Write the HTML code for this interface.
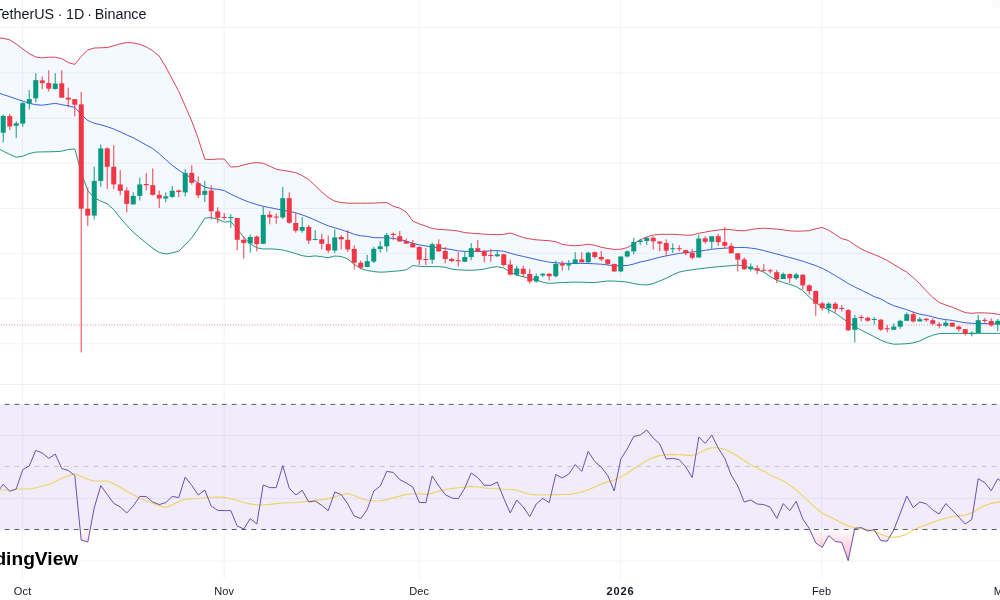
<!DOCTYPE html>
<html lang="en"><head><meta charset="utf-8"><title>Chart</title>
<style>html,body{margin:0;padding:0;background:#fff;overflow:hidden}body{width:1000px;height:600px;position:relative;font-family:"Liberation Sans",sans-serif}svg{position:absolute;left:0;top:0;display:block}text{font-family:"Liberation Sans",sans-serif}</style>
</head><body>
<svg width="1000" height="600" viewBox="0 0 1000 600">
<defs><linearGradient id="os" x1="0" y1="529.5" x2="0" y2="623" gradientUnits="userSpaceOnUse"><stop offset="0" stop-color="#f23660" stop-opacity="0.02"/><stop offset="1" stop-color="#f23660" stop-opacity="1"/></linearGradient></defs>
<rect width="1000" height="600" fill="#fff"/>
<g stroke="#f2f2f4" stroke-width="1" fill="none">
<line x1="0" y1="27.4" x2="1000" y2="27.4"/>
<line x1="0" y1="72.8" x2="1000" y2="72.8"/>
<line x1="0" y1="118.2" x2="1000" y2="118.2"/>
<line x1="0" y1="163.2" x2="1000" y2="163.2"/>
<line x1="0" y1="208.4" x2="1000" y2="208.4"/>
<line x1="0" y1="253.6" x2="1000" y2="253.6"/>
<line x1="0" y1="298.7" x2="1000" y2="298.7"/>
<line x1="0" y1="343.7" x2="1000" y2="343.7"/>
<line x1="0" y1="435.5" x2="1000" y2="435.5"/>
<line x1="0" y1="498.4" x2="1000" y2="498.4"/>
<line x1="0" y1="561.0" x2="1000" y2="561.0"/>
<line x1="22.6" y1="0" x2="22.6" y2="578.5"/>
<line x1="224.2" y1="0" x2="224.2" y2="578.5"/>
<line x1="419.2" y1="0" x2="419.2" y2="578.5"/>
<line x1="620.6" y1="0" x2="620.6" y2="578.5"/>
<line x1="821.6" y1="0" x2="821.6" y2="578.5"/>
</g>
<rect x="992.2" y="0" width="7.8" height="7.8" fill="#fbfbfb"/>
<line x1="0" y1="384.5" x2="1000" y2="384.5" stroke="#eef0f4" stroke-width="1"/>
<polygon points="0.0,38.0 3.2,38.3 9.8,39.9 16.2,44.0 22.8,49.0 29.2,53.6 35.8,57.0 42.2,57.9 48.8,57.2 55.2,57.2 61.8,58.6 68.2,62.5 74.8,64.4 81.2,56.4 87.8,50.0 94.2,48.0 100.8,47.8 107.2,47.5 113.8,45.8 120.2,43.9 126.8,42.5 133.2,42.9 139.8,44.3 146.2,46.9 152.8,50.7 159.2,56.2 165.8,67.0 172.2,79.0 178.8,91.5 185.2,105.9 191.8,121.3 198.2,138.5 204.8,159.2 211.2,159.6 217.8,159.0 224.2,159.0 230.8,167.0 237.2,166.7 243.8,164.9 250.2,163.4 256.8,162.5 263.2,163.3 269.8,166.3 276.2,169.2 282.8,170.4 289.2,171.3 295.8,172.7 302.2,175.6 308.8,179.6 315.2,185.6 321.8,191.9 328.2,197.4 334.8,201.2 341.2,202.5 347.8,203.2 354.2,203.2 360.8,203.2 367.2,203.2 373.8,203.1 380.2,202.7 386.8,202.6 393.2,206.2 399.8,208.2 406.2,212.0 412.8,221.0 419.2,223.9 425.8,226.1 432.2,228.4 438.8,229.4 445.2,229.8 451.8,230.2 458.2,231.1 464.8,232.6 471.2,233.2 477.8,233.7 484.2,234.1 490.8,234.5 497.2,234.6 503.8,234.4 510.2,233.0 516.8,235.3 523.2,237.5 529.8,238.9 536.2,239.8 542.8,240.3 549.2,240.7 555.8,241.7 562.2,244.3 568.8,245.3 575.2,245.8 581.8,245.2 588.2,244.2 594.8,245.3 601.2,247.3 607.8,248.5 614.2,249.4 620.8,249.2 627.2,247.7 633.8,243.8 640.2,239.8 646.8,236.9 653.2,235.0 659.8,234.3 666.2,234.3 672.8,234.3 679.2,234.6 685.8,235.2 692.2,235.1 698.8,233.3 705.2,232.1 711.8,230.9 718.2,230.0 724.8,229.3 731.2,229.7 737.8,230.6 744.2,230.8 750.8,229.6 757.2,228.6 763.8,228.2 770.2,228.6 776.8,229.1 783.2,229.8 789.8,230.8 796.2,231.2 802.8,231.0 809.2,230.7 815.8,228.8 822.2,227.5 828.8,230.3 835.2,234.5 841.8,238.7 848.2,240.4 854.8,245.0 861.2,248.9 867.8,252.1 874.2,254.5 880.8,257.3 887.2,260.5 893.8,264.5 900.2,268.3 906.8,272.2 913.2,277.5 919.8,283.8 926.2,290.8 932.8,297.3 939.2,302.5 945.8,305.0 952.2,307.1 958.8,310.0 965.2,312.6 971.8,313.3 978.2,312.8 984.8,312.9 991.2,313.3 997.8,314.2 1000.0,314.6 1000.0,333.4 997.8,333.4 991.2,333.4 984.8,333.4 978.2,333.4 971.8,333.4 965.2,333.4 958.8,333.4 952.2,333.4 945.8,333.5 939.2,333.6 932.8,335.2 926.2,337.7 919.8,341.0 913.2,342.9 906.8,343.7 900.2,344.1 893.8,344.2 887.2,342.7 880.8,340.2 874.2,336.7 867.8,333.4 861.2,330.2 854.8,326.5 848.2,322.4 841.8,317.8 835.2,313.1 828.8,309.8 822.2,306.6 815.8,302.9 809.2,296.9 802.8,290.8 796.2,286.6 789.8,284.4 783.2,282.5 776.8,280.2 770.2,276.6 763.8,272.2 757.2,269.8 750.8,268.1 744.2,266.0 737.8,265.1 731.2,265.7 724.8,266.2 718.2,266.7 711.8,267.3 705.2,268.1 698.8,268.9 692.2,269.8 685.8,270.7 679.2,272.1 672.8,274.8 666.2,278.3 659.8,280.9 653.2,283.6 646.8,285.0 640.2,284.6 633.8,283.5 627.2,282.1 620.8,281.5 614.2,281.1 607.8,281.0 601.2,281.8 594.8,282.5 588.2,282.5 581.8,282.2 575.2,282.1 568.8,282.3 562.2,282.5 555.8,283.0 549.2,283.4 542.8,282.2 536.2,280.0 529.8,278.4 523.2,276.8 516.8,275.1 510.2,272.1 503.8,268.1 497.2,266.7 490.8,267.5 484.2,269.1 477.8,269.9 471.2,270.3 464.8,270.2 458.2,269.9 451.8,269.1 445.2,267.3 438.8,266.6 432.2,266.6 425.8,266.6 419.2,266.3 412.8,265.5 406.2,269.8 399.8,270.8 393.2,271.3 386.8,271.9 380.2,272.2 373.8,271.6 367.2,270.5 360.8,268.5 354.2,264.3 347.8,259.0 341.2,256.5 334.8,256.0 328.2,257.8 321.8,256.7 315.2,255.9 308.8,256.6 302.2,255.7 295.8,253.6 289.2,251.6 282.8,250.0 276.2,249.2 269.8,248.9 263.2,249.0 256.8,247.8 250.2,243.6 243.8,237.4 237.2,229.1 230.8,221.6 224.2,222.0 217.8,219.3 211.2,217.6 204.8,218.2 198.2,228.7 191.8,237.8 185.2,244.8 178.8,251.1 172.2,252.9 165.8,254.0 159.2,252.5 152.8,248.2 146.2,243.1 139.8,237.8 133.2,232.1 126.8,225.5 120.2,217.8 113.8,209.7 107.2,203.8 100.8,201.1 94.2,197.8 87.8,190.7 81.2,172.6 74.8,149.0 68.2,149.5 61.8,151.2 55.2,151.6 48.8,151.8 42.2,151.9 35.8,152.1 29.2,153.6 22.8,156.3 16.2,157.2 9.8,154.4 3.2,151.2 0.0,149.5" fill="#2196f3" fill-opacity="0.055"/>
<polyline points="0.0,38.0 3.2,38.3 9.8,39.9 16.2,44.0 22.8,49.0 29.2,53.6 35.8,57.0 42.2,57.9 48.8,57.2 55.2,57.2 61.8,58.6 68.2,62.5 74.8,64.4 81.2,56.4 87.8,50.0 94.2,48.0 100.8,47.8 107.2,47.5 113.8,45.8 120.2,43.9 126.8,42.5 133.2,42.9 139.8,44.3 146.2,46.9 152.8,50.7 159.2,56.2 165.8,67.0 172.2,79.0 178.8,91.5 185.2,105.9 191.8,121.3 198.2,138.5 204.8,159.2 211.2,159.6 217.8,159.0 224.2,159.0 230.8,167.0 237.2,166.7 243.8,164.9 250.2,163.4 256.8,162.5 263.2,163.3 269.8,166.3 276.2,169.2 282.8,170.4 289.2,171.3 295.8,172.7 302.2,175.6 308.8,179.6 315.2,185.6 321.8,191.9 328.2,197.4 334.8,201.2 341.2,202.5 347.8,203.2 354.2,203.2 360.8,203.2 367.2,203.2 373.8,203.1 380.2,202.7 386.8,202.6 393.2,206.2 399.8,208.2 406.2,212.0 412.8,221.0 419.2,223.9 425.8,226.1 432.2,228.4 438.8,229.4 445.2,229.8 451.8,230.2 458.2,231.1 464.8,232.6 471.2,233.2 477.8,233.7 484.2,234.1 490.8,234.5 497.2,234.6 503.8,234.4 510.2,233.0 516.8,235.3 523.2,237.5 529.8,238.9 536.2,239.8 542.8,240.3 549.2,240.7 555.8,241.7 562.2,244.3 568.8,245.3 575.2,245.8 581.8,245.2 588.2,244.2 594.8,245.3 601.2,247.3 607.8,248.5 614.2,249.4 620.8,249.2 627.2,247.7 633.8,243.8 640.2,239.8 646.8,236.9 653.2,235.0 659.8,234.3 666.2,234.3 672.8,234.3 679.2,234.6 685.8,235.2 692.2,235.1 698.8,233.3 705.2,232.1 711.8,230.9 718.2,230.0 724.8,229.3 731.2,229.7 737.8,230.6 744.2,230.8 750.8,229.6 757.2,228.6 763.8,228.2 770.2,228.6 776.8,229.1 783.2,229.8 789.8,230.8 796.2,231.2 802.8,231.0 809.2,230.7 815.8,228.8 822.2,227.5 828.8,230.3 835.2,234.5 841.8,238.7 848.2,240.4 854.8,245.0 861.2,248.9 867.8,252.1 874.2,254.5 880.8,257.3 887.2,260.5 893.8,264.5 900.2,268.3 906.8,272.2 913.2,277.5 919.8,283.8 926.2,290.8 932.8,297.3 939.2,302.5 945.8,305.0 952.2,307.1 958.8,310.0 965.2,312.6 971.8,313.3 978.2,312.8 984.8,312.9 991.2,313.3 997.8,314.2 1000.0,314.6" fill="none" stroke="#d84553" stroke-width="1" stroke-linejoin="round"/>
<polyline points="0.0,149.5 3.2,151.2 9.8,154.4 16.2,157.2 22.8,156.3 29.2,153.6 35.8,152.1 42.2,151.9 48.8,151.8 55.2,151.6 61.8,151.2 68.2,149.5 74.8,149.0 81.2,172.6 87.8,190.7 94.2,197.8 100.8,201.1 107.2,203.8 113.8,209.7 120.2,217.8 126.8,225.5 133.2,232.1 139.8,237.8 146.2,243.1 152.8,248.2 159.2,252.5 165.8,254.0 172.2,252.9 178.8,251.1 185.2,244.8 191.8,237.8 198.2,228.7 204.8,218.2 211.2,217.6 217.8,219.3 224.2,222.0 230.8,221.6 237.2,229.1 243.8,237.4 250.2,243.6 256.8,247.8 263.2,249.0 269.8,248.9 276.2,249.2 282.8,250.0 289.2,251.6 295.8,253.6 302.2,255.7 308.8,256.6 315.2,255.9 321.8,256.7 328.2,257.8 334.8,256.0 341.2,256.5 347.8,259.0 354.2,264.3 360.8,268.5 367.2,270.5 373.8,271.6 380.2,272.2 386.8,271.9 393.2,271.3 399.8,270.8 406.2,269.8 412.8,265.5 419.2,266.3 425.8,266.6 432.2,266.6 438.8,266.6 445.2,267.3 451.8,269.1 458.2,269.9 464.8,270.2 471.2,270.3 477.8,269.9 484.2,269.1 490.8,267.5 497.2,266.7 503.8,268.1 510.2,272.1 516.8,275.1 523.2,276.8 529.8,278.4 536.2,280.0 542.8,282.2 549.2,283.4 555.8,283.0 562.2,282.5 568.8,282.3 575.2,282.1 581.8,282.2 588.2,282.5 594.8,282.5 601.2,281.8 607.8,281.0 614.2,281.1 620.8,281.5 627.2,282.1 633.8,283.5 640.2,284.6 646.8,285.0 653.2,283.6 659.8,280.9 666.2,278.3 672.8,274.8 679.2,272.1 685.8,270.7 692.2,269.8 698.8,268.9 705.2,268.1 711.8,267.3 718.2,266.7 724.8,266.2 731.2,265.7 737.8,265.1 744.2,266.0 750.8,268.1 757.2,269.8 763.8,272.2 770.2,276.6 776.8,280.2 783.2,282.5 789.8,284.4 796.2,286.6 802.8,290.8 809.2,296.9 815.8,302.9 822.2,306.6 828.8,309.8 835.2,313.1 841.8,317.8 848.2,322.4 854.8,326.5 861.2,330.2 867.8,333.4 874.2,336.7 880.8,340.2 887.2,342.7 893.8,344.2 900.2,344.1 906.8,343.7 913.2,342.9 919.8,341.0 926.2,337.7 932.8,335.2 939.2,333.6 945.8,333.5 952.2,333.4 958.8,333.4 965.2,333.4 971.8,333.4 978.2,333.4 984.8,333.4 991.2,333.4 997.8,333.4 1000.0,333.4" fill="none" stroke="#25967f" stroke-width="1" stroke-linejoin="round"/>
<polyline points="0.0,93.5 3.2,94.6 9.8,96.7 16.2,98.9 22.8,101.1 29.2,103.3 35.8,104.7 42.2,105.2 48.8,104.3 55.2,103.3 61.8,104.7 68.2,105.8 74.8,107.4 81.2,114.5 87.8,120.5 94.2,123.3 100.8,124.8 107.2,126.7 113.8,129.0 120.2,131.8 126.8,135.0 133.2,137.7 139.8,141.4 146.2,145.0 152.8,148.6 159.2,153.7 165.8,159.7 172.2,165.3 178.8,170.2 185.2,174.3 191.8,178.1 198.2,183.3 204.8,187.0 211.2,188.7 217.8,189.3 224.2,190.6 230.8,194.1 237.2,197.2 243.8,200.1 250.2,202.5 256.8,204.6 263.2,206.3 269.8,207.6 276.2,208.9 282.8,210.1 289.2,211.3 295.8,212.8 302.2,214.9 308.8,217.3 315.2,220.1 321.8,223.2 328.2,225.8 334.8,227.8 341.2,229.7 347.8,231.9 354.2,234.3 360.8,235.8 367.2,236.4 373.8,237.6 380.2,237.8 386.8,237.8 393.2,238.4 399.8,239.4 406.2,241.1 412.8,243.3 419.2,244.9 425.8,246.0 432.2,246.9 438.8,247.8 445.2,248.6 451.8,249.6 458.2,250.9 464.8,251.4 471.2,251.4 477.8,251.4 484.2,251.3 490.8,250.8 497.2,250.6 503.8,251.3 510.2,253.2 516.8,255.0 523.2,256.4 529.8,258.0 536.2,259.5 542.8,260.9 549.2,262.2 555.8,262.8 562.2,263.2 568.8,263.4 575.2,263.4 581.8,263.4 588.2,263.5 594.8,263.8 601.2,264.2 607.8,265.0 614.2,265.7 620.8,265.7 627.2,265.5 633.8,264.0 640.2,262.0 646.8,260.7 653.2,259.0 659.8,257.2 666.2,255.9 672.8,254.6 679.2,253.4 685.8,252.6 692.2,252.0 698.8,251.3 705.2,250.3 711.8,249.3 718.2,248.6 724.8,248.2 731.2,247.8 737.8,247.5 744.2,247.4 750.8,248.1 757.2,249.0 763.8,250.6 770.2,252.3 776.8,254.0 783.2,255.8 789.8,257.5 796.2,259.3 802.8,261.2 809.2,263.4 815.8,265.6 822.2,268.3 828.8,271.7 835.2,275.6 841.8,279.5 848.2,283.5 854.8,287.0 861.2,290.1 867.8,293.2 874.2,296.7 880.8,298.8 887.2,302.7 893.8,305.7 900.2,307.7 906.8,309.7 913.2,312.1 919.8,314.2 926.2,315.3 932.8,316.9 939.2,318.6 945.8,319.6 952.2,320.4 958.8,321.6 965.2,322.8 971.8,323.3 978.2,323.5 984.8,323.6 991.2,323.7 997.8,323.8 1000.0,323.8" fill="none" stroke="#3a62d6" stroke-width="1" stroke-linejoin="round"/>
<line x1="0" y1="325" x2="1000" y2="325" stroke="#c4485a" stroke-width="1" stroke-dasharray="0.8 1.9" stroke-dashoffset="-0.85" stroke-opacity="0.75"/>
<g fill="#089981" stroke="none">
<rect x="2.65" y="114.8" width="1.2" height="27.7" opacity="0.8"/>
<rect x="0.75" y="115.9" width="5" height="16.8"/>
<rect x="15.65" y="121.2" width="1.2" height="16.8" opacity="0.8"/>
<rect x="13.75" y="123.3" width="5" height="2.5"/>
<rect x="22.15" y="102.0" width="1.2" height="24.8" opacity="0.8"/>
<rect x="20.25" y="103.1" width="5" height="20.5"/>
<rect x="28.65" y="90.0" width="1.2" height="19.5" opacity="0.8"/>
<rect x="26.75" y="99.1" width="5" height="4.5"/>
<rect x="35.15" y="73.2" width="1.2" height="29.3" opacity="0.8"/>
<rect x="33.25" y="80.1" width="5" height="18.2"/>
<rect x="54.65" y="73.2" width="1.2" height="16.5" opacity="0.8"/>
<rect x="52.75" y="83.6" width="5" height="5.4"/>
<rect x="93.65" y="166.5" width="1.2" height="53.1" opacity="0.8"/>
<rect x="91.75" y="180.9" width="5" height="34.7"/>
<rect x="100.15" y="144.4" width="1.2" height="42.4" opacity="0.8"/>
<rect x="98.25" y="148.4" width="5" height="32.5"/>
<rect x="132.65" y="192.4" width="1.2" height="12.0" opacity="0.8"/>
<rect x="130.75" y="195.9" width="5" height="8.5"/>
<rect x="139.15" y="177.7" width="1.2" height="22.7" opacity="0.8"/>
<rect x="137.25" y="184.4" width="5" height="11.5"/>
<rect x="165.15" y="192.4" width="1.2" height="9.9" opacity="0.8"/>
<rect x="163.25" y="196.4" width="5" height="2.1"/>
<rect x="171.65" y="186.0" width="1.2" height="12.0" opacity="0.8"/>
<rect x="169.75" y="190.8" width="5" height="6.1"/>
<rect x="184.65" y="169.2" width="1.2" height="27.2" opacity="0.8"/>
<rect x="182.75" y="172.9" width="5" height="19.5"/>
<rect x="204.15" y="180.9" width="1.2" height="21.1" opacity="0.8"/>
<rect x="202.25" y="190.8" width="5" height="4.0"/>
<rect x="230.15" y="214.2" width="1.2" height="13.6" opacity="0.8"/>
<rect x="228.25" y="217.0" width="5" height="1.2"/>
<rect x="249.65" y="234.5" width="1.2" height="18.1" opacity="0.8"/>
<rect x="247.75" y="237.0" width="5" height="6.5"/>
<rect x="262.65" y="206.7" width="1.2" height="37.1" opacity="0.8"/>
<rect x="260.75" y="215.0" width="5" height="28.8"/>
<rect x="282.15" y="187.0" width="1.2" height="32.0" opacity="0.8"/>
<rect x="280.25" y="198.2" width="5" height="19.2"/>
<rect x="301.65" y="217.0" width="1.2" height="15.6" opacity="0.8"/>
<rect x="299.75" y="227.0" width="5" height="3.7"/>
<rect x="314.65" y="230.2" width="1.2" height="10.1" opacity="0.8"/>
<rect x="312.75" y="239.0" width="5" height="1.0"/>
<rect x="334.15" y="229.4" width="1.2" height="23.6" opacity="0.8"/>
<rect x="332.25" y="237.4" width="5" height="13.1"/>
<rect x="366.65" y="255.0" width="1.2" height="12.0" opacity="0.8"/>
<rect x="364.75" y="261.2" width="5" height="5.8"/>
<rect x="373.15" y="246.8" width="1.2" height="16.2" opacity="0.8"/>
<rect x="371.25" y="248.8" width="5" height="12.8"/>
<rect x="379.65" y="241.0" width="1.2" height="11.7" opacity="0.8"/>
<rect x="377.75" y="246.3" width="5" height="2.7"/>
<rect x="386.15" y="233.0" width="1.2" height="18.7" opacity="0.8"/>
<rect x="384.25" y="235.0" width="5" height="11.3"/>
<rect x="431.65" y="242.6" width="1.2" height="21.3" opacity="0.8"/>
<rect x="429.75" y="244.2" width="5" height="15.5"/>
<rect x="464.15" y="251.4" width="1.2" height="10.4" opacity="0.8"/>
<rect x="462.25" y="257.0" width="5" height="4.8"/>
<rect x="470.65" y="243.0" width="1.2" height="17.2" opacity="0.8"/>
<rect x="468.75" y="248.2" width="5" height="8.8"/>
<rect x="496.65" y="250.6" width="1.2" height="6.4" opacity="0.8"/>
<rect x="494.75" y="254.3" width="5" height="1.9"/>
<rect x="516.15" y="265.9" width="1.2" height="10.3" opacity="0.8"/>
<rect x="514.25" y="268.5" width="5" height="6.1"/>
<rect x="535.65" y="273.5" width="1.2" height="9.1" opacity="0.8"/>
<rect x="533.75" y="276.2" width="5" height="5.3"/>
<rect x="542.15" y="273.0" width="1.2" height="4.3" opacity="0.8"/>
<rect x="540.25" y="273.8" width="5" height="1.6"/>
<rect x="555.15" y="260.7" width="1.2" height="16.6" opacity="0.8"/>
<rect x="553.25" y="263.9" width="5" height="12.3"/>
<rect x="568.15" y="260.2" width="1.2" height="10.1" opacity="0.8"/>
<rect x="566.25" y="264.2" width="5" height="1.3"/>
<rect x="574.65" y="252.2" width="1.2" height="11.7" opacity="0.8"/>
<rect x="572.75" y="259.4" width="5" height="4.5"/>
<rect x="587.65" y="251.7" width="1.2" height="10.9" opacity="0.8"/>
<rect x="585.75" y="252.7" width="5" height="9.6"/>
<rect x="620.15" y="256.2" width="1.2" height="16.0" opacity="0.8"/>
<rect x="618.25" y="256.5" width="5" height="14.9"/>
<rect x="626.65" y="250.1" width="1.2" height="7.4" opacity="0.8"/>
<rect x="624.75" y="251.4" width="5" height="5.1"/>
<rect x="633.15" y="237.8" width="1.2" height="16.8" opacity="0.8"/>
<rect x="631.25" y="242.1" width="5" height="9.3"/>
<rect x="639.65" y="238.6" width="1.2" height="6.4" opacity="0.8"/>
<rect x="637.75" y="240.5" width="5" height="1.6"/>
<rect x="646.15" y="237.0" width="1.2" height="8.0" opacity="0.8"/>
<rect x="644.25" y="237.8" width="5" height="3.2"/>
<rect x="672.15" y="243.4" width="1.2" height="9.6" opacity="0.8"/>
<rect x="670.25" y="248.2" width="5" height="1.0"/>
<rect x="698.15" y="234.6" width="1.2" height="22.9" opacity="0.8"/>
<rect x="696.25" y="238.6" width="5" height="18.9"/>
<rect x="711.15" y="236.2" width="1.2" height="12.8" opacity="0.8"/>
<rect x="709.25" y="236.2" width="5" height="5.6"/>
<rect x="750.15" y="263.4" width="1.2" height="8.0" opacity="0.8"/>
<rect x="748.25" y="266.6" width="5" height="2.7"/>
<rect x="782.65" y="272.5" width="1.2" height="6.5" opacity="0.8"/>
<rect x="780.75" y="274.0" width="5" height="5.0"/>
<rect x="795.65" y="273.0" width="1.2" height="6.9" opacity="0.8"/>
<rect x="793.75" y="274.5" width="5" height="3.7"/>
<rect x="828.15" y="302.1" width="1.2" height="11.2" opacity="0.8"/>
<rect x="826.25" y="303.7" width="5" height="4.5"/>
<rect x="854.15" y="314.9" width="1.2" height="27.7" opacity="0.8"/>
<rect x="852.25" y="318.1" width="5" height="11.7"/>
<rect x="873.65" y="317.0" width="1.2" height="7.5" opacity="0.8"/>
<rect x="871.75" y="319.0" width="5" height="1.0"/>
<rect x="893.15" y="323.3" width="1.2" height="6.5" opacity="0.8"/>
<rect x="891.25" y="326.6" width="5" height="3.2"/>
<rect x="899.65" y="319.8" width="1.2" height="9.0" opacity="0.8"/>
<rect x="897.75" y="320.8" width="5" height="5.9"/>
<rect x="906.15" y="312.5" width="1.2" height="8.3" opacity="0.8"/>
<rect x="904.25" y="314.2" width="5" height="6.6"/>
<rect x="919.15" y="317.1" width="1.2" height="4.3" opacity="0.8"/>
<rect x="917.25" y="319.2" width="5" height="2.2"/>
<rect x="945.15" y="320.2" width="1.2" height="7.0" opacity="0.8"/>
<rect x="943.25" y="322.7" width="5" height="3.1"/>
<rect x="971.15" y="331.4" width="1.2" height="5.0" opacity="0.8"/>
<rect x="969.25" y="332.8" width="5" height="1.4"/>
<rect x="977.65" y="315.0" width="1.2" height="18.0" opacity="0.8"/>
<rect x="975.75" y="320.2" width="5" height="12.8"/>
<rect x="997.15" y="319.0" width="1.2" height="12.0" opacity="0.8"/>
<rect x="995.25" y="320.8" width="5" height="3.8"/>
</g>
<g fill="#f23645" stroke="none">
<rect x="9.15" y="114.0" width="1.2" height="16.0" opacity="0.8"/>
<rect x="7.25" y="116.1" width="5" height="10.4"/>
<rect x="41.65" y="76.4" width="1.2" height="12.8" opacity="0.8"/>
<rect x="39.75" y="80.4" width="5" height="2.7"/>
<rect x="48.15" y="70.3" width="1.2" height="21.3" opacity="0.8"/>
<rect x="46.25" y="83.1" width="5" height="5.6"/>
<rect x="61.15" y="70.3" width="1.2" height="27.7" opacity="0.8"/>
<rect x="59.25" y="83.3" width="5" height="14.4"/>
<rect x="67.65" y="87.6" width="1.2" height="19.7" opacity="0.8"/>
<rect x="65.75" y="97.7" width="5" height="1.9"/>
<rect x="74.15" y="99.1" width="1.2" height="17.3" opacity="0.8"/>
<rect x="72.25" y="99.1" width="5" height="5.6"/>
<rect x="80.65" y="92.1" width="1.2" height="260.3" opacity="0.8"/>
<rect x="78.75" y="104.4" width="5" height="104.3"/>
<rect x="87.15" y="187.5" width="1.2" height="38.5" opacity="0.8"/>
<rect x="85.25" y="208.7" width="5" height="6.9"/>
<rect x="106.65" y="147.3" width="1.2" height="41.6" opacity="0.8"/>
<rect x="104.75" y="148.4" width="5" height="18.4"/>
<rect x="113.15" y="145.2" width="1.2" height="44.0" opacity="0.8"/>
<rect x="111.25" y="166.8" width="5" height="17.6"/>
<rect x="119.65" y="170.0" width="1.2" height="25.3" opacity="0.8"/>
<rect x="117.75" y="184.4" width="5" height="6.4"/>
<rect x="126.15" y="187.3" width="1.2" height="25.1" opacity="0.8"/>
<rect x="124.25" y="190.5" width="5" height="13.4"/>
<rect x="145.65" y="173.2" width="1.2" height="17.3" opacity="0.8"/>
<rect x="143.75" y="184.0" width="5" height="1.2"/>
<rect x="152.15" y="168.4" width="1.2" height="27.2" opacity="0.8"/>
<rect x="150.25" y="185.2" width="5" height="9.6"/>
<rect x="158.65" y="190.5" width="1.2" height="17.5" opacity="0.8"/>
<rect x="156.75" y="194.8" width="5" height="3.7"/>
<rect x="178.15" y="189.5" width="1.2" height="7.7" opacity="0.8"/>
<rect x="176.25" y="190.5" width="5" height="1.5"/>
<rect x="191.15" y="165.2" width="1.2" height="19.5" opacity="0.8"/>
<rect x="189.25" y="172.9" width="5" height="9.9"/>
<rect x="197.65" y="176.4" width="1.2" height="21.6" opacity="0.8"/>
<rect x="195.75" y="183.1" width="5" height="12.2"/>
<rect x="210.65" y="185.2" width="1.2" height="34.4" opacity="0.8"/>
<rect x="208.75" y="190.5" width="5" height="20.8"/>
<rect x="217.15" y="207.3" width="1.2" height="15.7" opacity="0.8"/>
<rect x="215.25" y="211.4" width="5" height="6.4"/>
<rect x="223.65" y="213.1" width="1.2" height="6.7" opacity="0.8"/>
<rect x="221.75" y="217.0" width="5" height="1.0"/>
<rect x="236.65" y="217.9" width="1.2" height="32.3" opacity="0.8"/>
<rect x="234.75" y="217.9" width="5" height="21.9"/>
<rect x="243.15" y="236.6" width="1.2" height="21.9" opacity="0.8"/>
<rect x="241.25" y="239.8" width="5" height="3.2"/>
<rect x="256.15" y="235.5" width="1.2" height="16.0" opacity="0.8"/>
<rect x="254.25" y="236.6" width="5" height="7.5"/>
<rect x="269.15" y="211.0" width="1.2" height="13.3" opacity="0.8"/>
<rect x="267.25" y="214.7" width="5" height="2.7"/>
<rect x="275.65" y="213.4" width="1.2" height="10.4" opacity="0.8"/>
<rect x="273.75" y="216.6" width="5" height="1.0"/>
<rect x="288.65" y="192.3" width="1.2" height="31.5" opacity="0.8"/>
<rect x="286.75" y="198.2" width="5" height="24.5"/>
<rect x="295.15" y="213.0" width="1.2" height="19.6" opacity="0.8"/>
<rect x="293.25" y="223.0" width="5" height="7.7"/>
<rect x="308.15" y="225.0" width="1.2" height="19.0" opacity="0.8"/>
<rect x="306.25" y="227.0" width="5" height="13.6"/>
<rect x="321.15" y="233.9" width="1.2" height="15.5" opacity="0.8"/>
<rect x="319.25" y="239.3" width="5" height="4.5"/>
<rect x="327.65" y="235.5" width="1.2" height="17.5" opacity="0.8"/>
<rect x="325.75" y="244.1" width="5" height="6.4"/>
<rect x="340.65" y="235.0" width="1.2" height="14.4" opacity="0.8"/>
<rect x="338.75" y="237.0" width="5" height="2.3"/>
<rect x="347.15" y="230.2" width="1.2" height="21.8" opacity="0.8"/>
<rect x="345.25" y="239.8" width="5" height="9.6"/>
<rect x="353.65" y="245.4" width="1.2" height="24.0" opacity="0.8"/>
<rect x="351.75" y="248.9" width="5" height="13.8"/>
<rect x="360.15" y="260.6" width="1.2" height="8.8" opacity="0.8"/>
<rect x="358.25" y="262.7" width="5" height="4.9"/>
<rect x="392.65" y="232.5" width="1.2" height="7.7" opacity="0.8"/>
<rect x="390.75" y="233.8" width="5" height="1.2"/>
<rect x="399.15" y="231.0" width="1.2" height="10.5" opacity="0.8"/>
<rect x="397.25" y="236.2" width="5" height="5.3"/>
<rect x="405.65" y="238.6" width="1.2" height="5.1" opacity="0.8"/>
<rect x="403.75" y="241.0" width="5" height="2.7"/>
<rect x="412.15" y="240.0" width="1.2" height="7.4" opacity="0.8"/>
<rect x="410.25" y="243.4" width="5" height="4.0"/>
<rect x="418.65" y="246.3" width="1.2" height="18.7" opacity="0.8"/>
<rect x="416.75" y="247.0" width="5" height="12.7"/>
<rect x="425.15" y="248.0" width="1.2" height="17.0" opacity="0.8"/>
<rect x="423.25" y="259.0" width="5" height="1.0"/>
<rect x="438.15" y="239.4" width="1.2" height="12.3" opacity="0.8"/>
<rect x="436.25" y="244.2" width="5" height="7.2"/>
<rect x="444.65" y="247.0" width="1.2" height="16.4" opacity="0.8"/>
<rect x="442.75" y="251.0" width="5" height="8.0"/>
<rect x="451.15" y="257.5" width="1.2" height="4.8" opacity="0.8"/>
<rect x="449.25" y="259.0" width="5" height="2.0"/>
<rect x="457.65" y="252.2" width="1.2" height="14.4" opacity="0.8"/>
<rect x="455.75" y="260.2" width="5" height="1.1"/>
<rect x="477.15" y="240.0" width="1.2" height="12.2" opacity="0.8"/>
<rect x="475.25" y="248.2" width="5" height="3.2"/>
<rect x="483.65" y="249.8" width="1.2" height="12.5" opacity="0.8"/>
<rect x="481.75" y="251.0" width="5" height="4.9"/>
<rect x="490.15" y="249.0" width="1.2" height="12.8" opacity="0.8"/>
<rect x="488.25" y="255.0" width="5" height="1.0"/>
<rect x="503.15" y="253.8" width="1.2" height="12.8" opacity="0.8"/>
<rect x="501.25" y="254.3" width="5" height="10.7"/>
<rect x="509.65" y="259.7" width="1.2" height="15.7" opacity="0.8"/>
<rect x="507.75" y="264.5" width="5" height="10.1"/>
<rect x="522.65" y="265.8" width="1.2" height="11.2" opacity="0.8"/>
<rect x="520.75" y="268.7" width="5" height="5.3"/>
<rect x="529.15" y="269.0" width="1.2" height="14.7" opacity="0.8"/>
<rect x="527.25" y="274.0" width="5" height="7.5"/>
<rect x="548.65" y="273.0" width="1.2" height="7.5" opacity="0.8"/>
<rect x="546.75" y="273.8" width="5" height="2.4"/>
<rect x="561.65" y="260.7" width="1.2" height="9.9" opacity="0.8"/>
<rect x="559.75" y="263.4" width="5" height="2.1"/>
<rect x="581.15" y="252.2" width="1.2" height="10.1" opacity="0.8"/>
<rect x="579.25" y="259.4" width="5" height="2.9"/>
<rect x="594.15" y="251.4" width="1.2" height="7.2" opacity="0.8"/>
<rect x="592.25" y="252.2" width="5" height="4.8"/>
<rect x="600.65" y="251.0" width="1.2" height="10.3" opacity="0.8"/>
<rect x="598.75" y="257.0" width="5" height="2.4"/>
<rect x="607.15" y="259.0" width="1.2" height="6.0" opacity="0.8"/>
<rect x="605.25" y="259.4" width="5" height="4.5"/>
<rect x="613.65" y="263.9" width="1.2" height="8.0" opacity="0.8"/>
<rect x="611.75" y="263.9" width="5" height="7.5"/>
<rect x="652.65" y="236.2" width="1.2" height="13.3" opacity="0.8"/>
<rect x="650.75" y="237.8" width="5" height="3.5"/>
<rect x="659.15" y="241.5" width="1.2" height="9.9" opacity="0.8"/>
<rect x="657.25" y="241.5" width="5" height="2.1"/>
<rect x="665.65" y="239.4" width="1.2" height="16.5" opacity="0.8"/>
<rect x="663.75" y="243.0" width="5" height="7.6"/>
<rect x="678.65" y="245.3" width="1.2" height="6.1" opacity="0.8"/>
<rect x="676.75" y="248.2" width="5" height="1.0"/>
<rect x="685.15" y="249.5" width="1.2" height="5.9" opacity="0.8"/>
<rect x="683.25" y="250.1" width="5" height="3.2"/>
<rect x="691.65" y="249.0" width="1.2" height="10.4" opacity="0.8"/>
<rect x="689.75" y="253.0" width="5" height="4.8"/>
<rect x="704.65" y="236.2" width="1.2" height="7.5" opacity="0.8"/>
<rect x="702.75" y="238.3" width="5" height="3.5"/>
<rect x="717.65" y="233.8" width="1.2" height="12.0" opacity="0.8"/>
<rect x="715.75" y="236.2" width="5" height="5.9"/>
<rect x="724.15" y="227.1" width="1.2" height="21.4" opacity="0.8"/>
<rect x="722.25" y="242.1" width="5" height="3.7"/>
<rect x="730.65" y="243.0" width="1.2" height="10.3" opacity="0.8"/>
<rect x="728.75" y="245.8" width="5" height="7.5"/>
<rect x="737.15" y="253.3" width="1.2" height="18.1" opacity="0.8"/>
<rect x="735.25" y="253.3" width="5" height="6.4"/>
<rect x="743.65" y="257.5" width="1.2" height="12.3" opacity="0.8"/>
<rect x="741.75" y="259.4" width="5" height="9.9"/>
<rect x="756.65" y="265.0" width="1.2" height="9.0" opacity="0.8"/>
<rect x="754.75" y="268.2" width="5" height="2.4"/>
<rect x="763.15" y="264.2" width="1.2" height="7.2" opacity="0.8"/>
<rect x="761.25" y="269.8" width="5" height="1.0"/>
<rect x="769.65" y="268.7" width="1.2" height="4.8" opacity="0.8"/>
<rect x="767.75" y="270.3" width="5" height="1.0"/>
<rect x="776.15" y="269.8" width="1.2" height="13.2" opacity="0.8"/>
<rect x="774.25" y="272.2" width="5" height="7.2"/>
<rect x="789.15" y="273.5" width="1.2" height="9.5" opacity="0.8"/>
<rect x="787.25" y="274.0" width="5" height="4.3"/>
<rect x="802.15" y="274.2" width="1.2" height="15.4" opacity="0.8"/>
<rect x="800.25" y="274.7" width="5" height="10.7"/>
<rect x="808.65" y="284.2" width="1.2" height="10.8" opacity="0.8"/>
<rect x="806.75" y="285.4" width="5" height="5.7"/>
<rect x="815.15" y="290.9" width="1.2" height="25.0" opacity="0.8"/>
<rect x="813.25" y="290.9" width="5" height="12.8"/>
<rect x="821.65" y="301.8" width="1.2" height="8.8" opacity="0.8"/>
<rect x="819.75" y="303.4" width="5" height="4.8"/>
<rect x="834.65" y="302.1" width="1.2" height="10.6" opacity="0.8"/>
<rect x="832.75" y="303.7" width="5" height="5.3"/>
<rect x="841.15" y="305.0" width="1.2" height="6.4" opacity="0.8"/>
<rect x="839.25" y="307.9" width="5" height="1.1"/>
<rect x="847.65" y="309.0" width="1.2" height="21.9" opacity="0.8"/>
<rect x="845.75" y="310.1" width="5" height="20.2"/>
<rect x="860.65" y="314.9" width="1.2" height="6.4" opacity="0.8"/>
<rect x="858.75" y="317.0" width="5" height="1.1"/>
<rect x="867.15" y="316.5" width="1.2" height="5.3" opacity="0.8"/>
<rect x="865.25" y="317.8" width="5" height="2.9"/>
<rect x="880.15" y="319.0" width="1.2" height="11.9" opacity="0.8"/>
<rect x="878.25" y="319.7" width="5" height="9.9"/>
<rect x="886.65" y="325.0" width="1.2" height="7.3" opacity="0.8"/>
<rect x="884.75" y="328.2" width="5" height="1.1"/>
<rect x="912.65" y="311.7" width="1.2" height="10.9" opacity="0.8"/>
<rect x="910.75" y="314.2" width="5" height="7.2"/>
<rect x="925.65" y="317.8" width="1.2" height="4.0" opacity="0.8"/>
<rect x="923.75" y="318.8" width="5" height="1.4"/>
<rect x="932.15" y="318.2" width="1.2" height="7.2" opacity="0.8"/>
<rect x="930.25" y="320.2" width="5" height="3.6"/>
<rect x="938.65" y="322.1" width="1.2" height="6.3" opacity="0.8"/>
<rect x="936.75" y="324.2" width="5" height="1.6"/>
<rect x="951.65" y="322.7" width="1.2" height="3.9" opacity="0.8"/>
<rect x="949.75" y="322.7" width="5" height="3.9"/>
<rect x="958.15" y="325.6" width="1.2" height="6.0" opacity="0.8"/>
<rect x="956.25" y="326.6" width="5" height="2.6"/>
<rect x="964.65" y="329.0" width="1.2" height="6.4" opacity="0.8"/>
<rect x="962.75" y="329.2" width="5" height="4.8"/>
<rect x="984.15" y="318.2" width="1.2" height="5.0" opacity="0.8"/>
<rect x="982.25" y="319.8" width="5" height="1.2"/>
<rect x="990.65" y="318.4" width="1.2" height="8.2" opacity="0.8"/>
<rect x="988.75" y="321.0" width="5" height="4.4"/>
</g>
<rect x="0" y="404.4" width="1000" height="125.1" fill="#7855d7" fill-opacity="0.115"/>
<clipPath id="below"><rect x="0" y="529.5" width="1000" height="70"/></clipPath>
<polygon clip-path="url(#below)" points="-3.2,493.0 3.2,484.4 9.8,491.4 16.2,489.0 22.8,469.6 29.2,466.0 35.8,450.4 42.2,453.0 48.8,458.4 55.2,454.0 61.8,468.6 68.2,470.4 74.8,475.6 81.2,540.0 87.8,542.0 94.2,508.0 100.8,485.6 107.2,494.4 113.8,503.4 120.2,507.0 126.8,513.0 133.2,506.0 139.8,496.4 146.2,496.6 152.8,502.0 159.2,504.6 165.8,502.6 172.2,496.4 178.8,497.6 185.2,477.0 191.8,485.5 198.2,495.0 204.8,490.0 211.2,506.0 217.8,510.4 224.2,510.6 230.8,510.6 237.2,526.0 243.8,529.0 250.2,518.6 256.8,524.0 263.2,485.0 269.8,487.6 276.2,487.6 282.8,465.6 289.2,488.0 295.8,495.0 302.2,490.4 308.8,502.0 315.2,501.0 321.8,505.4 328.2,510.6 334.8,492.0 341.2,494.6 347.8,504.0 354.2,516.0 360.8,518.6 367.2,509.6 373.8,491.0 380.2,486.2 386.8,471.4 393.2,472.4 399.8,479.6 406.2,483.0 412.8,487.0 419.2,502.4 425.8,502.6 432.2,476.0 438.8,486.0 445.2,494.6 451.8,498.0 458.2,498.8 464.8,488.0 471.2,473.0 477.8,477.6 484.2,485.2 490.8,485.4 497.2,482.0 503.8,498.4 510.2,513.0 516.8,500.0 523.2,507.0 529.8,516.6 536.2,504.0 542.8,498.4 549.2,502.6 555.8,474.4 562.2,478.0 568.8,474.0 575.2,464.6 581.8,471.4 588.2,451.4 594.8,461.6 601.2,467.0 607.8,475.6 614.2,491.0 620.8,459.0 627.2,449.0 633.8,436.4 640.2,435.0 646.8,430.0 653.2,438.0 659.8,444.0 666.2,459.0 672.8,458.4 679.2,459.6 685.8,467.0 692.2,477.6 698.8,437.0 705.2,443.4 711.8,435.0 718.2,448.0 724.8,458.4 731.2,475.0 737.8,486.0 744.2,502.0 750.8,500.0 757.2,504.0 763.8,504.6 770.2,507.2 776.8,518.4 783.2,503.6 789.8,510.6 796.2,501.4 802.8,519.0 809.2,528.4 815.8,543.0 822.2,547.4 828.8,535.6 835.2,541.4 841.8,542.4 848.2,560.6 854.8,528.4 861.2,527.6 867.8,531.0 874.2,529.6 880.8,540.6 887.2,541.2 893.8,530.0 900.2,513.5 906.8,496.0 913.2,507.6 919.8,502.0 926.2,503.8 932.8,510.0 939.2,514.0 945.8,503.5 952.2,510.0 958.8,517.0 965.2,524.0 971.8,519.5 978.2,478.7 984.8,482.7 991.2,490.7 997.8,478.7 1004.2,484.0 1010,529.5 -10,529.5" fill="url(#os)"/>
<g fill="none" stroke-width="1">
<line x1="0" y1="404.4" x2="1000" y2="404.4" stroke="#585b66" stroke-dasharray="4.8 5.07" stroke-dashoffset="-4.7"/>
<line x1="0" y1="529.5" x2="1000" y2="529.5" stroke="#585b66" stroke-dasharray="4.8 5.07" stroke-dashoffset="-4.7"/>
<line x1="0" y1="466.4" x2="1000" y2="466.4" stroke="#c4c1d2" stroke-dasharray="4.8 5.07" stroke-dashoffset="-4.7"/>
</g>
<polyline points="0.0,490.0 3.2,490.0 9.8,490.0 16.2,489.3 22.8,489.0 29.2,489.0 35.8,487.7 42.2,486.0 48.8,484.8 55.2,481.5 61.8,478.3 68.2,475.9 74.8,473.6 81.2,476.6 87.8,479.5 94.2,481.0 100.8,481.0 107.2,481.1 113.8,483.8 120.2,487.3 126.8,491.3 133.2,494.7 139.8,497.9 146.2,500.7 152.8,503.3 159.2,505.9 165.8,507.4 172.2,504.9 178.8,501.4 185.2,499.3 191.8,498.9 198.2,498.5 204.8,497.7 211.2,497.3 217.8,497.0 224.2,497.4 230.8,498.8 237.2,500.5 243.8,502.5 250.2,503.9 256.8,505.0 263.2,504.8 269.8,504.4 276.2,503.6 282.8,503.0 289.2,502.8 295.8,502.5 302.2,501.9 308.8,501.1 315.2,500.4 321.8,499.6 328.2,498.6 334.8,496.9 341.2,495.0 347.8,493.4 354.2,495.4 360.8,498.2 367.2,500.3 373.8,501.0 380.2,500.8 386.8,499.6 393.2,497.7 399.8,496.1 406.2,494.5 412.8,493.8 419.2,493.6 425.8,494.4 432.2,493.1 438.8,491.3 445.2,489.5 451.8,488.5 458.2,487.8 464.8,487.0 471.2,486.4 477.8,487.0 484.2,488.0 490.8,488.5 497.2,488.8 503.8,489.2 510.2,489.5 516.8,490.1 523.2,492.5 529.8,494.2 536.2,494.9 542.8,495.0 549.2,494.7 555.8,494.6 562.2,494.5 568.8,494.4 575.2,493.5 581.8,492.0 588.2,489.7 594.8,486.9 601.2,483.9 607.8,481.9 614.2,479.9 620.8,476.9 627.2,473.3 633.8,468.8 640.2,464.6 646.8,460.6 653.2,457.6 659.8,455.6 666.2,454.7 672.8,454.4 679.2,454.7 685.8,455.1 692.2,455.6 698.8,453.4 705.2,449.6 711.8,447.8 718.2,447.9 724.8,449.2 731.2,452.6 737.8,456.3 744.2,460.5 750.8,464.9 757.2,468.0 763.8,471.2 770.2,475.1 776.8,478.0 783.2,481.1 789.8,485.1 796.2,489.8 802.8,495.9 809.2,502.1 815.8,508.1 822.2,513.2 828.8,516.6 835.2,519.6 841.8,523.0 848.2,526.1 854.8,527.5 861.2,528.5 867.8,529.8 874.2,531.5 880.8,534.2 887.2,536.6 893.8,537.4 900.2,536.6 906.8,533.9 913.2,529.9 919.8,527.1 926.2,524.7 932.8,522.2 939.2,520.0 945.8,518.2 952.2,516.7 958.8,516.0 965.2,515.2 971.8,512.6 978.2,508.9 984.8,505.4 991.2,503.4 997.8,502.1 1000.0,501.9" fill="none" stroke="#f0d264" stroke-width="1.1" stroke-linejoin="round"/>
<polyline points="-3.2,493.0 3.2,484.4 9.8,491.4 16.2,489.0 22.8,469.6 29.2,466.0 35.8,450.4 42.2,453.0 48.8,458.4 55.2,454.0 61.8,468.6 68.2,470.4 74.8,475.6 81.2,540.0 87.8,542.0 94.2,508.0 100.8,485.6 107.2,494.4 113.8,503.4 120.2,507.0 126.8,513.0 133.2,506.0 139.8,496.4 146.2,496.6 152.8,502.0 159.2,504.6 165.8,502.6 172.2,496.4 178.8,497.6 185.2,477.0 191.8,485.5 198.2,495.0 204.8,490.0 211.2,506.0 217.8,510.4 224.2,510.6 230.8,510.6 237.2,526.0 243.8,529.0 250.2,518.6 256.8,524.0 263.2,485.0 269.8,487.6 276.2,487.6 282.8,465.6 289.2,488.0 295.8,495.0 302.2,490.4 308.8,502.0 315.2,501.0 321.8,505.4 328.2,510.6 334.8,492.0 341.2,494.6 347.8,504.0 354.2,516.0 360.8,518.6 367.2,509.6 373.8,491.0 380.2,486.2 386.8,471.4 393.2,472.4 399.8,479.6 406.2,483.0 412.8,487.0 419.2,502.4 425.8,502.6 432.2,476.0 438.8,486.0 445.2,494.6 451.8,498.0 458.2,498.8 464.8,488.0 471.2,473.0 477.8,477.6 484.2,485.2 490.8,485.4 497.2,482.0 503.8,498.4 510.2,513.0 516.8,500.0 523.2,507.0 529.8,516.6 536.2,504.0 542.8,498.4 549.2,502.6 555.8,474.4 562.2,478.0 568.8,474.0 575.2,464.6 581.8,471.4 588.2,451.4 594.8,461.6 601.2,467.0 607.8,475.6 614.2,491.0 620.8,459.0 627.2,449.0 633.8,436.4 640.2,435.0 646.8,430.0 653.2,438.0 659.8,444.0 666.2,459.0 672.8,458.4 679.2,459.6 685.8,467.0 692.2,477.6 698.8,437.0 705.2,443.4 711.8,435.0 718.2,448.0 724.8,458.4 731.2,475.0 737.8,486.0 744.2,502.0 750.8,500.0 757.2,504.0 763.8,504.6 770.2,507.2 776.8,518.4 783.2,503.6 789.8,510.6 796.2,501.4 802.8,519.0 809.2,528.4 815.8,543.0 822.2,547.4 828.8,535.6 835.2,541.4 841.8,542.4 848.2,560.6 854.8,528.4 861.2,527.6 867.8,531.0 874.2,529.6 880.8,540.6 887.2,541.2 893.8,530.0 900.2,513.5 906.8,496.0 913.2,507.6 919.8,502.0 926.2,503.8 932.8,510.0 939.2,514.0 945.8,503.5 952.2,510.0 958.8,517.0 965.2,524.0 971.8,519.5 978.2,478.7 984.8,482.7 991.2,490.7 997.8,478.7 1004.2,484.0" fill="none" stroke="#6a52b3" stroke-width="1" stroke-linejoin="round"/>
<g font-size="14" fill="#131722"><text x="-5.6" y="18.8" textLength="59.7" lengthAdjust="spacingAndGlyphs">TetherUS</text><text x="60" y="18.8" text-anchor="middle">·</text><text x="66" y="18.8" textLength="18.3" lengthAdjust="spacingAndGlyphs">1D</text><text x="89.6" y="18.8" text-anchor="middle">·</text><text x="94.7" y="18.8" textLength="51.8" lengthAdjust="spacingAndGlyphs">Binance</text></g>
<text x="-5.6" y="565.2" font-size="18.6" font-weight="700" fill="#000" textLength="83.8" lengthAdjust="spacingAndGlyphs" stroke="#fff" stroke-width="3" paint-order="stroke" stroke-linejoin="round">dingView</text>
<g font-size="11" fill="#131722" text-anchor="middle">
<text x="22.6" y="594.7" letter-spacing="0.15">Oct</text>
<text x="224.2" y="594.7" letter-spacing="0.15">Nov</text>
<text x="419.2" y="594.7" letter-spacing="0.15">Dec</text>
<text x="620.6" y="594.7" font-weight="700" letter-spacing="0.9">2026</text>
<text x="821.6" y="594.7" letter-spacing="0.15">Feb</text>
<text x="1003.4" y="594.7" letter-spacing="0.15">Mar</text>
</g>
</svg></body></html>
